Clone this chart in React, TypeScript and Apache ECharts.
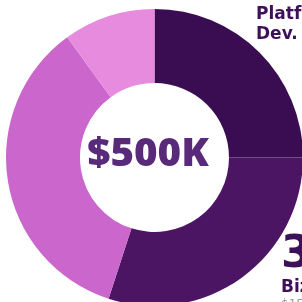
import React, { useEffect, useRef } from "react";
import * as echarts from "echarts";

const categories = ["Platform Dev.", "Biz Dev.", "Marketing", "Operations"];
const values = [25, 30, 35, 10];
const amounts = ["$125K", "$150K", "$175K", "$50K"];
const sliceColors = ["#3a0c52", "#4b1563", "#cb66cc", "#e68bde"];
const totalLabel = "$500K";

const LABEL_FONT = "'DejaVu Sans', sans-serif";

export default function App() {
  const ref = useRef<HTMLDivElement>(null);
  useEffect(() => {
    if (!ref.current) return;
    const chart = echarts.init(ref.current, undefined, { renderer: "svg" });
    chart.setOption({
      animation: false,
      graphic: [
        {
          type: "text",
          x: 148,
          y: 151,
          scaleX: 1.06,
          style: {
            text: totalLabel,
            align: "center",
            verticalAlign: "middle",
            fill: "#5a2a7a",
            font: "800 38px 'Open Sans', sans-serif",
          },
        },
        {
          type: "text",
          x: 256,
          y: 3,
          style: {
            text: categories[0].replace(" ", "\n"),
            fill: "#3d1159",
            font: "bold 17px " + LABEL_FONT,
            lineHeight: 20,
          },
        },
        {
          type: "text",
          x: 281,
          y: 229,
          style: {
            text: values[1] + "%",
            fill: "#3d1159",
            font: "bold 44px " + LABEL_FONT,
          },
        },
        {
          type: "text",
          x: 281,
          y: 277,
          style: {
            text: categories[1],
            fill: "#3d1159",
            font: "bold 17px " + LABEL_FONT,
          },
        },
        {
          type: "text",
          x: 281,
          y: 298,
          style: {
            text: amounts[1],
            fill: "#999999",
            font: "12px " + LABEL_FONT,
          },
        },
      ],
      series: [
        {
          type: "pie",
          center: [154.5, 157.5],
          radius: [74.5, 148.5],
          startAngle: 90,
          clockwise: true,
          silent: true,
          label: { show: false },
          labelLine: { show: false },
          itemStyle: { borderWidth: 0 },
          data: categories.map((name, i) => ({
            name,
            value: values[i],
            itemStyle: { color: sliceColors[i] },
          })),
        },
      ],
    });
    return () => chart.dispose();
  }, []);
  return (
    <div
      ref={ref}
      style={{ position: "fixed", left: 0, top: 0, width: 302, height: 302 }}
    />
  );
}
